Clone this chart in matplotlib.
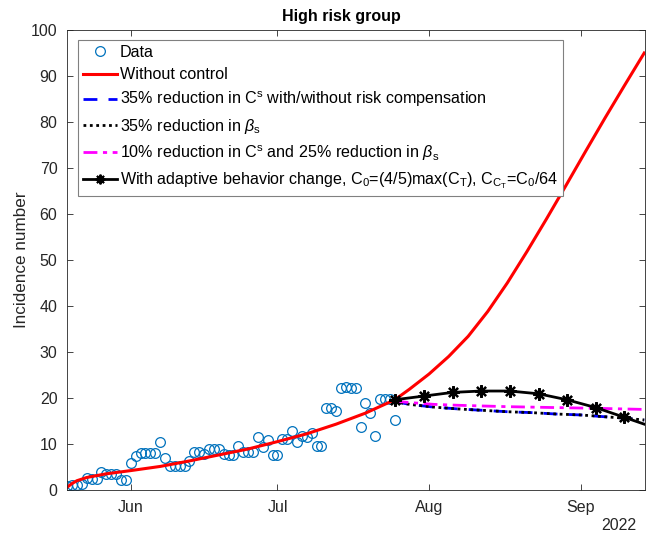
import numpy as np
import matplotlib
matplotlib.use('Agg')
import matplotlib.pyplot as plt
import matplotlib.dates as mdates
from matplotlib.lines import Line2D

plt.rcParams.update({'font.family': ['Liberation Sans', 'DejaVu Sans'],
                     'mathtext.fontset': 'custom',
                     'mathtext.rm': 'Liberation Sans',
                     'mathtext.it': 'Liberation Sans:italic',
                     'font.size': 10})

start = np.datetime64('2022-05-19')

# observed incidence, one point per day from start
data_vals = [0.9, 1.1, 1.1, 1.2, 2.5, 2.3, 2.3, 4.0, 3.5, 3.5, 3.5, 2.2, 2.2,
             5.8, 7.4, 8.0, 8.0, 8.0, 8.0, 10.4,
             7.0, 5.3, 5.3, 5.3, 5.3, 6.3, 8.2, 8.2, 7.8, 8.8, 8.8, 8.8, 7.8,
             7.6, 7.6, 9.6, 8.3, 8.3, 8.3,
             11.4, 9.4, 10.9, 7.6, 7.6, 11.0, 11.0, 12.8,
             10.4, 11.8, 11.6, 12.3, 9.6, 9.6,
             17.9, 17.9, 17.2, 22.1, 22.3, 22.1, 22.1, 13.6, 18.8, 16.8, 11.8,
             19.7, 19.7, 19.7, 15.2]
data_days = np.arange(len(data_vals))

# model without control
red_days = [0, 1, 2, 4, 6, 8, 13, 19, 25, 31, 37, 43, 49, 55, 61, 67, 70, 74,
            78, 82, 86, 90, 94, 98, 102, 106, 110, 114, 118]
red_vals = [0.6, 1.4, 2.0, 2.7, 3.1, 3.5, 4.2, 5.1, 6.3, 7.6, 8.9, 10.5, 12.2,
            14.3, 16.7, 19.6, 21.9, 25.2, 29.0, 33.4, 38.8, 45.0, 51.8, 58.9,
            66.2, 73.6, 80.9, 88.0, 95.0]

# 35% reduction scenarios (C^s and beta_s give the same curve)
red35_days = [67, 68, 70, 75, 80, 85, 90, 95, 100, 105, 110, 114, 118]
red35_vals = [19.6, 19.0, 18.6, 18.0, 17.6, 17.3, 17.0, 16.8, 16.5, 16.3,
              15.9, 15.6, 15.2]

# 10% reduction in C^s and 25% in beta_s
mix_days = [67, 68, 70, 75, 80, 90, 100, 110, 118]
mix_vals = [19.6, 19.2, 19.0, 18.6, 18.4, 18.1, 17.9, 17.7, 17.5]

# adaptive behaviour change
adapt_days = [67, 72.9, 78.8, 84.6, 90.5, 96.4, 102.2, 108.1, 113.9, 118]
adapt_vals = [19.6, 20.4, 21.2, 21.5, 21.5, 20.9, 19.6, 17.9, 15.8, 14.3]


def to_dates(days):
    return start + (np.asarray(days) * 24 * 3600).astype('timedelta64[s]')


fig = plt.figure(figsize=(6.46, 5.36), dpi=100)
ax = fig.add_axes([0.104, 0.086, 0.894, 0.858])

ax.plot(to_dates(data_days), data_vals, 'o', mfc='none', mec='#0072BD',
        ms=7, mew=0.9, label='Data')
ax.plot(to_dates(red_days), red_vals, color='#FF0000', lw=2.2,
        label='Without control')
ax.plot(to_dates(red35_days), red35_vals, color='#0000FF', lw=2, ls=(0, (5, 4)),
        label=r'35% reduction in C$^{\rm s}$ with/without risk compensation')
ax.plot(to_dates(red35_days), red35_vals, color='black', lw=2, ls=(0, (1, 1.3)),
        label=r'35% reduction in $\beta_{\rm s}$')
ax.plot(to_dates(mix_days), mix_vals, color='#FF00FF', lw=2,
        ls=(0, (5, 2, 1.5, 2)),
        label=r'10% reduction in C$^{\rm s}$ and 25% reduction in $\beta_{\rm s}$')
ax.plot(to_dates(adapt_days[:-1]), adapt_vals[:-1], ls='none', marker=(8, 2, 0),
        ms=9, mew=1.6, color='black')
ax.plot(to_dates(adapt_days), adapt_vals, color='black', lw=2,
        label=r'With adaptive behavior change, C$_0$=(4/5)max(C$_{\rm T}$), '
              r'C$_{{\rm C}_{\rm T}}$=C$_0$/64')

ax.set_xlim(to_dates([0])[0], to_dates([118.1])[0])
ax.set_ylim(0, 100)
ax.set_yticks(np.arange(0, 101, 10))
ax.xaxis.set_major_locator(mdates.MonthLocator(bymonthday=1))
ax.xaxis.set_major_formatter(mdates.DateFormatter('%b'))
ax.tick_params(direction='in', top=True, right=True, labelsize=11.5,
               length=4, width=0.6, colors='#262626', pad=7)
for s in ax.spines.values():
    s.set_linewidth(0.6)
    s.set_color('#262626')

ax.set_ylabel('Incidence number', fontsize=12.3, color='#262626', labelpad=1)
ax.text(0.474, 1.012, 'High risk group', transform=ax.transAxes, ha='center',
        va='bottom', fontsize=11.5, fontweight='bold')
ax.text(0.985, -0.077, '2022', transform=ax.transAxes, ha='right', va='center',
        fontsize=11.5, color='#262626')

# legend, adaptive entry shows line with one star
handles, labels = ax.get_legend_handles_labels()
handles[-1] = Line2D([], [], color='black', lw=2, marker=(8, 2, 0), ms=7, mew=1.4)
leg = ax.legend(handles, labels, loc='upper left', bbox_to_anchor=(0.019, 0.978),
                borderaxespad=0, fontsize=11.6, handlelength=2.1, handletextpad=0.2,
                numpoints=1, fancybox=False, framealpha=1, labelspacing=0.46,
                borderpad=0.3, edgecolor='#808080')
leg.get_frame().set_linewidth(0.8)

plt.savefig('out.png', dpi=100)
